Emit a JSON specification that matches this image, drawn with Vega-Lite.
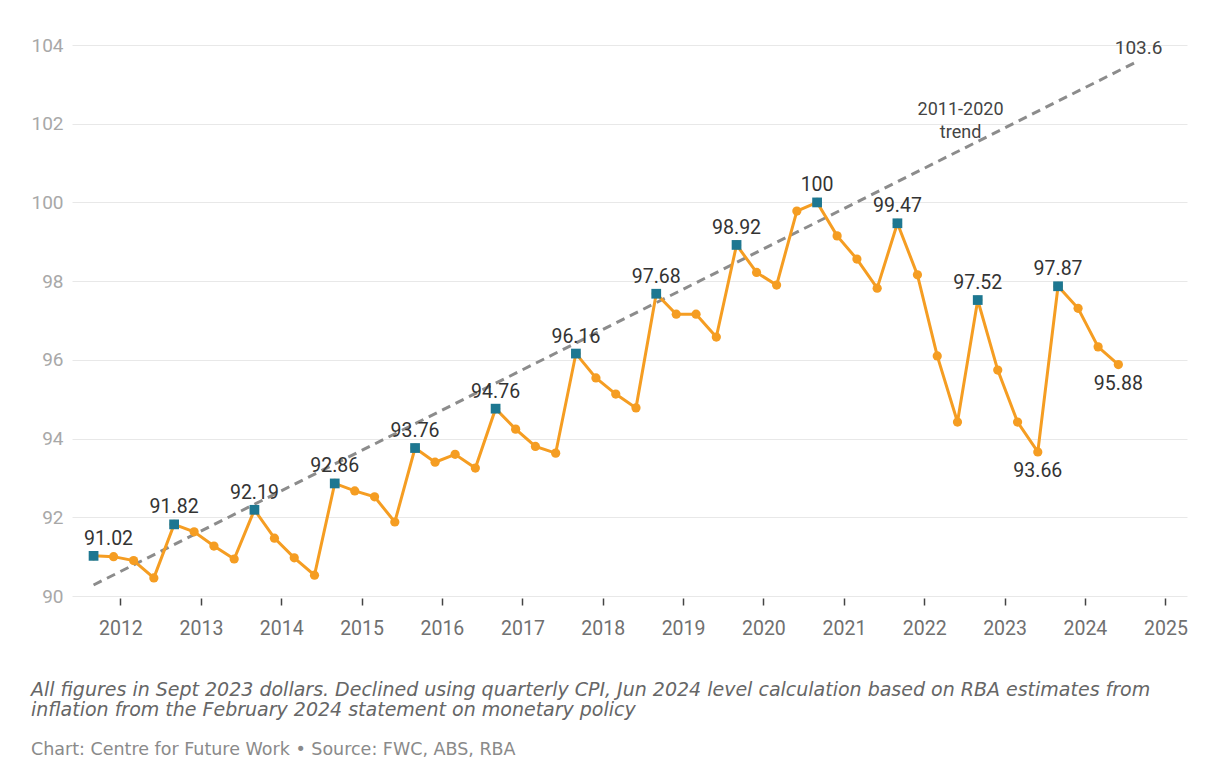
{
  "$schema": "https://vega.github.io/schema/vega-lite/v6.json",
  "width": 1115,
  "height": 551,
  "autosize": {"type": "none"},
  "padding": {"left": 72, "top": 45, "right": 21, "bottom": 181},
  "background": "white",
  "config": {"font": "Roboto", "view": {"stroke": null}},
  "title": {
    "text": [
      "All figures in Sept 2023 dollars. Declined using quarterly CPI, Jun 2024 level calculation based on RBA estimates from",
      "inflation from the February 2024 statement on monetary policy"
    ],
    "subtitle": "Chart: Centre for Future Work • Source: FWC, ABS, RBA",
    "orient": "bottom",
    "anchor": "start",
    "frame": "bounds",
    "offset": 43,
    "font": "DejaVu Sans",
    "fontSize": 19,
    "fontStyle": "italic",
    "fontWeight": "normal",
    "color": "#666666",
    "lineHeight": 20,
    "subtitleFont": "DejaVu Sans",
    "subtitleFontSize": 17.5,
    "subtitleColor": "#8a8a8a",
    "subtitlePadding": 21
  },
  "datasets": {
    "wage": [
      {"quarter": "2011-09-01", "value": 91.02},
      {"quarter": "2011-12-01", "value": 91.0},
      {"quarter": "2012-03-01", "value": 90.9},
      {"quarter": "2012-06-01", "value": 90.46},
      {"quarter": "2012-09-01", "value": 91.82},
      {"quarter": "2012-12-01", "value": 91.63},
      {"quarter": "2013-03-01", "value": 91.27},
      {"quarter": "2013-06-01", "value": 90.94},
      {"quarter": "2013-09-01", "value": 92.19},
      {"quarter": "2013-12-01", "value": 91.47},
      {"quarter": "2014-03-01", "value": 90.97},
      {"quarter": "2014-06-01", "value": 90.53},
      {"quarter": "2014-09-01", "value": 92.86},
      {"quarter": "2014-12-01", "value": 92.67},
      {"quarter": "2015-03-01", "value": 92.52},
      {"quarter": "2015-06-01", "value": 91.88},
      {"quarter": "2015-09-01", "value": 93.76},
      {"quarter": "2015-12-01", "value": 93.4},
      {"quarter": "2016-03-01", "value": 93.6},
      {"quarter": "2016-06-01", "value": 93.25},
      {"quarter": "2016-09-01", "value": 94.76},
      {"quarter": "2016-12-01", "value": 94.24},
      {"quarter": "2017-03-01", "value": 93.8},
      {"quarter": "2017-06-01", "value": 93.63},
      {"quarter": "2017-09-01", "value": 96.16},
      {"quarter": "2017-12-01", "value": 95.54},
      {"quarter": "2018-03-01", "value": 95.13},
      {"quarter": "2018-06-01", "value": 94.78},
      {"quarter": "2018-09-01", "value": 97.68},
      {"quarter": "2018-12-01", "value": 97.16},
      {"quarter": "2019-03-01", "value": 97.16},
      {"quarter": "2019-06-01", "value": 96.58},
      {"quarter": "2019-09-01", "value": 98.92},
      {"quarter": "2019-12-01", "value": 98.22},
      {"quarter": "2020-03-01", "value": 97.9},
      {"quarter": "2020-06-01", "value": 99.78},
      {"quarter": "2020-09-01", "value": 100.0},
      {"quarter": "2020-12-01", "value": 99.15},
      {"quarter": "2021-03-01", "value": 98.56},
      {"quarter": "2021-06-01", "value": 97.82},
      {"quarter": "2021-09-01", "value": 99.47},
      {"quarter": "2021-12-01", "value": 98.16},
      {"quarter": "2022-03-01", "value": 96.1},
      {"quarter": "2022-06-01", "value": 94.42},
      {"quarter": "2022-09-01", "value": 97.52},
      {"quarter": "2022-12-01", "value": 95.74},
      {"quarter": "2023-03-01", "value": 94.42},
      {"quarter": "2023-06-01", "value": 93.66},
      {"quarter": "2023-09-01", "value": 97.87},
      {"quarter": "2023-12-01", "value": 97.31},
      {"quarter": "2024-03-01", "value": 96.33},
      {"quarter": "2024-06-01", "value": 95.88}
    ],
    "trend": [
      {"quarter": "2011-09-01", "value": 90.28},
      {"quarter": "2024-09-01", "value": 103.6}
    ],
    "note": [
      {"quarter": "2022-06-15", "value": 102.35, "label": "2011-2020\ntrend"}
    ]
  },
  "encoding": {
    "x": {
      "field": "quarter",
      "type": "temporal",
      "scale": {
        "type": "utc",
        "domain": [
          {"year": 2011, "month": 5, "date": 26, "utc": true},
          {"year": 2025, "month": 4, "date": 9, "utc": true}
        ]
      },
      "axis": {
        "title": null,
        "values": [
          {"year": 2012, "month": 1, "date": 1, "utc": true},
          {"year": 2013, "month": 1, "date": 1, "utc": true},
          {"year": 2014, "month": 1, "date": 1, "utc": true},
          {"year": 2015, "month": 1, "date": 1, "utc": true},
          {"year": 2016, "month": 1, "date": 1, "utc": true},
          {"year": 2017, "month": 1, "date": 1, "utc": true},
          {"year": 2018, "month": 1, "date": 1, "utc": true},
          {"year": 2019, "month": 1, "date": 1, "utc": true},
          {"year": 2020, "month": 1, "date": 1, "utc": true},
          {"year": 2021, "month": 1, "date": 1, "utc": true},
          {"year": 2022, "month": 1, "date": 1, "utc": true},
          {"year": 2023, "month": 1, "date": 1, "utc": true},
          {"year": 2024, "month": 1, "date": 1, "utc": true},
          {"year": 2025, "month": 1, "date": 1, "utc": true}
        ],
        "labelExpr": "utcFormat(datum.value, '%Y')",
        "grid": false,
        "domain": false,
        "offset": 2,
        "tickSize": 7,
        "tickColor": "#444444",
        "tickWidth": 1.5,
        "labelPadding": 14,
        "labelFontSize": 19.5,
        "labelColor": "#707070",
        "labelFlush": false
      }
    },
    "y": {
      "field": "value",
      "type": "quantitative",
      "scale": {"domain": [90, 104], "nice": false, "zero": false},
      "axis": {
        "title": null,
        "values": [90, 92, 94, 96, 98, 100, 102, 104],
        "grid": true,
        "gridColor": "#e8e8e8",
        "gridWidth": 1,
        "domain": false,
        "ticks": false,
        "labelPadding": 9,
        "labelFontSize": 19,
        "labelColor": "#a8a8a8"
      }
    }
  },
  "layer": [
    {
      "data": {"name": "trend", "format": {"parse": {"quarter": "date"}}},
      "mark": {"type": "line", "color": "#8c8c8c", "strokeWidth": 3, "strokeDash": [9, 6]}
    },
    {
      "data": {"name": "trend", "format": {"parse": {"quarter": "date"}}},
      "transform": [{"filter": "datum.value > 100"}],
      "mark": {"type": "text", "fontSize": 19, "color": "#444444", "baseline": "alphabetic", "dy": -7},
      "encoding": {"text": {"field": "value", "type": "quantitative", "format": ".1f"}}
    },
    {
      "data": {"name": "note", "format": {"parse": {"quarter": "date"}}},
      "mark": {"type": "text", "fontSize": 18, "color": "#444444", "lineBreak": "\n", "lineHeight": 23, "baseline": "middle"},
      "encoding": {"text": {"field": "label", "type": "nominal"}}
    },
    {
      "data": {"name": "wage", "format": {"parse": {"quarter": "date"}}},
      "mark": {"type": "line", "color": "#f59d22", "strokeWidth": 3}
    },
    {
      "data": {"name": "wage", "format": {"parse": {"quarter": "date"}}},
      "mark": {"type": "point", "shape": "circle", "filled": true, "size": 85, "opacity": 1, "color": "#f59d22"}
    },
    {
      "data": {"name": "wage", "format": {"parse": {"quarter": "date"}}},
      "transform": [{"filter": "utcmonth(datum.quarter) == 8"}],
      "mark": {"type": "point", "shape": "square", "filled": true, "size": 95, "opacity": 1, "color": "#1d7791"}
    },
    {
      "data": {"name": "wage", "format": {"parse": {"quarter": "date"}}},
      "transform": [{"filter": "utcmonth(datum.quarter) == 8 && utcyear(datum.quarter) > 2011"}],
      "mark": {"type": "text", "fontSize": 19.5, "color": "#333333", "baseline": "alphabetic", "dy": -11},
      "encoding": {"text": {"field": "value", "type": "quantitative", "format": ".2~f"}}
    },
    {
      "data": {"name": "wage", "format": {"parse": {"quarter": "date"}}},
      "transform": [{"filter": "utcmonth(datum.quarter) == 8 && utcyear(datum.quarter) == 2011"}],
      "mark": {"type": "text", "fontSize": 19.5, "color": "#333333", "baseline": "alphabetic", "dy": -11, "dx": 15},
      "encoding": {"text": {"field": "value", "type": "quantitative", "format": ".2~f"}}
    },
    {
      "data": {"name": "wage", "format": {"parse": {"quarter": "date"}}},
      "transform": [{"filter": "utcmonth(datum.quarter) == 5 && utcyear(datum.quarter) >= 2023"}],
      "mark": {"type": "text", "fontSize": 19.5, "color": "#333333", "baseline": "top", "dy": 10},
      "encoding": {"text": {"field": "value", "type": "quantitative", "format": ".2~f"}}
    }
  ]
}
